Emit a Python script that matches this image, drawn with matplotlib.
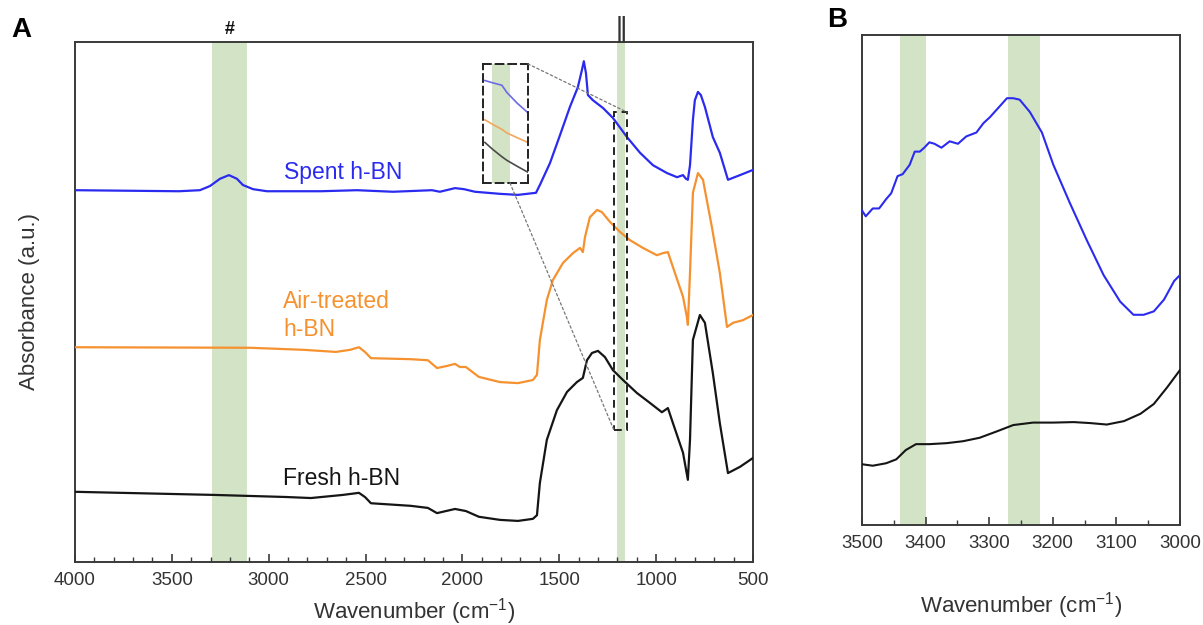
import numpy as np
import matplotlib.pyplot as plt
from matplotlib.patches import Rectangle, ConnectionPatch
from matplotlib.ticker import MultipleLocator
import matplotlib.transforms as mtransforms

plt.rcParams['font.family'] = ['Liberation Sans', 'DejaVu Sans']
plt.rcParams['mathtext.default'] = 'regular'

# --- panel A : full spectra (absorbance in a.u., 0 = bottom of frame, 100 = top) ---
wn_spent = [4000, 3463, 3355, 3303, 3251, 3205, 3164, 3133, 3081, 3009, 2730, 2544, 2358,
            2157, 2116, 2038, 1992, 1935, 1806, 1713, 1620, 1600, 1548, 1496, 1445, 1404,
            1383, 1373, 1362, 1352, 1326, 1274, 1223, 1150, 1083, 1016, 944, 892, 861, 846,
            836, 825, 810, 800, 784, 769, 748, 707, 671, 629, 567, 500]
au_spent = [71.5, 71.3, 71.5, 72.3, 73.7, 74.4, 73.7, 72.5, 71.7, 71.3, 71.3, 71.5, 71.2,
            71.5, 71.2, 71.9, 71.7, 71.2, 70.8, 70.6, 71.0, 72.5, 76.7, 82.1, 87.5, 91.3,
            94.6, 96.3, 94.0, 89.8, 88.8, 87.3, 85.4, 81.7, 78.7, 76.3, 74.8, 74.0, 74.4, 73.7,
            73.5, 76.3, 85.0, 88.8, 90.4, 89.8, 87.5, 81.7, 78.7, 73.5, 74.4, 75.4]

wn_air = [4000, 3097, 2818, 2653, 2580, 2534, 2503, 2472, 2266, 2178, 2131, 2080, 2038,
          2013, 1982, 1915, 1806, 1713, 1636, 1615, 1600, 1564, 1533, 1481, 1429, 1393,
          1378, 1367, 1342, 1305, 1280, 1238, 1187, 1135, 1068, 996, 965, 939, 913, 861,
          841, 836, 825, 810, 784, 758, 712, 671, 634, 603, 552, 500]
au_air = [41.3, 41.2, 40.8, 40.4, 40.8, 41.3, 40.4, 39.2, 39.0, 38.8, 37.3, 37.7, 38.1,
          37.5, 37.5, 35.6, 34.6, 34.4, 35.0, 36.0, 42.7, 50.4, 54.2, 57.5, 59.4, 60.4,
          59.6, 62.5, 66.3, 67.7, 67.3, 65.4, 63.5, 61.9, 60.4, 59.0, 59.4, 59.6, 56.7, 51.0,
          47.1, 45.6, 55.6, 71.0, 74.8, 73.5, 64.4, 55.6, 45.2, 46.0, 46.5, 47.5]

wn_fresh = [4000, 3282, 2911, 2782, 2617, 2534, 2503, 2472, 2266, 2178, 2131, 2038, 1982,
            1915, 1806, 1713, 1636, 1615, 1600, 1564, 1512, 1460, 1409, 1378, 1357, 1331,
            1300, 1264, 1223, 1171, 1099, 1032, 970, 939, 913, 861, 836, 825, 810, 774,
            748, 707, 671, 629, 567, 500]
au_fresh = [13.5, 12.9, 12.5, 12.3, 12.9, 13.3, 12.5, 11.3, 10.8, 10.4, 9.4, 10.2, 9.8,
            8.7, 8.1, 7.9, 8.3, 9.0, 15.2, 23.5, 29.2, 32.7, 34.6, 35.4, 38.8, 40.2,
            40.6, 39.4, 36.9, 35.0, 32.5, 30.6, 28.8, 29.6, 26.7, 21.0, 15.8, 23.5, 42.7, 47.5,
            46.0, 36.3, 26.7, 17.1, 18.3, 20.0]

bands_a = [(3290, 3112), (1200, 1162)]
band_marks = ['#', '\u2016']
zoom_wn = (1218, 1150)
zoom_au = (25.4, 86.5)

# inset (schematic zoom of the dashed window), positions 0..1 across the inset
inset_pos = [0.04, 0.22, 0.42, 0.53, 0.76, 1.0]
inset_spent = [0.86, 0.84, 0.82, 0.76, 0.67, 0.59]
inset_air = [0.53, 0.49, 0.45, 0.42, 0.38, 0.34]
inset_fresh = [0.34, 0.28, 0.22, 0.19, 0.14, 0.09]

# --- panel B : 3500-3000 cm-1 region ---
wn_b_spent = [3500, 3494, 3483, 3473, 3462, 3454, 3444, 3436, 3425, 3417, 3409, 3402, 3394,
              3386, 3375, 3362, 3349, 3336, 3320, 3309, 3299, 3283, 3272, 3262, 3252, 3236,
              3217, 3199, 3173, 3146, 3120, 3094, 3073, 3057, 3041, 3025, 3009, 3000]
au_b_spent = [64.2, 63.0, 64.6, 64.6, 66.5, 67.7, 71.2, 71.6, 73.5, 76.2, 76.2, 77.0, 78.1,
              77.8, 77.0, 78.3, 77.8, 79.3, 80.1, 82.0, 83.2, 85.5, 87.1, 87.1, 86.8, 84.3,
              80.1, 73.5, 65.7, 58.0, 51.0, 45.6, 42.9, 42.9, 43.6, 46.0, 49.8, 51.0]
wn_b_fresh = [3500, 3483, 3462, 3446, 3431, 3415, 3394, 3367, 3341, 3315, 3288, 3262, 3231,
              3199, 3167, 3141, 3115, 3088, 3062, 3041, 3020, 3000]
au_b_fresh = [12.4, 12.1, 12.6, 13.4, 15.3, 16.5, 16.5, 16.7, 17.1, 17.8, 19.1, 20.4, 20.9,
              20.9, 21.0, 20.8, 20.5, 21.2, 22.7, 24.7, 28.1, 31.6]
bands_b = [(3440, 3400), (3270, 3220)]

c_blue = '#2b2bf0'
c_orange = '#f5922f'
c_black = '#151515'
c_band = '#d3e4c6'
c_spine = '#3a3a3a'

fig = plt.figure(figsize=(12.03, 6.25), dpi=100)
ax = fig.add_axes([0.0623, 0.1008, 0.5636, 0.832])
axb = fig.add_axes([0.7165, 0.16, 0.2643, 0.784])


def style_axis(a, major, minor):
    for s in a.spines.values():
        s.set_color(c_spine)
        s.set_linewidth(1.4)
    a.xaxis.set_major_locator(MultipleLocator(major))
    a.xaxis.set_minor_locator(MultipleLocator(minor))
    a.tick_params(axis='x', which='major', direction='in', length=6, width=1.2,
                  color=c_spine, labelsize=13.5, labelcolor='#333333', pad=7, top=False)
    a.tick_params(axis='x', which='minor', direction='in', length=3.5, width=1.0,
                  color=c_spine, top=False)
    a.set_yticks([])


# panel A
for lo, hi in bands_a:
    ax.axvspan(lo, hi, color=c_band, lw=0, zorder=0)
ax.plot(wn_spent, au_spent, color=c_blue, lw=1.6, zorder=3)
ax.plot(wn_air, au_air, color=c_orange, lw=1.6, zorder=3)
ax.plot(wn_fresh, au_fresh, color=c_black, lw=1.6, zorder=3)
ax.set_xlim(4000, 500)
ax.set_ylim(0, 100)
style_axis(ax, 500, 100)
ax.set_xlabel('Wavenumber (cm$^{-1}$)', fontsize=16, color='#333333')
ax.xaxis.set_label_coords(0.5, -0.066)
ax.set_ylabel('Absorbance (a.u.)', fontsize=16, color='#333333')
ax.yaxis.set_label_coords(-0.052, 0.5)

ax.text(2920, 73.6, 'Spent h-BN', color=c_blue, fontsize=16.5, va='baseline')
ax.text(2925, 52.3, 'Air-treated\nh-BN', color=c_orange, fontsize=16.5, va='top',
        linespacing=1.3)
ax.text(2925, 14.9, 'Fresh h-BN', color=c_black, fontsize=16.5, va='baseline')

trans = mtransforms.blended_transform_factory(ax.transData, ax.transAxes)
ax.text(np.mean(bands_a[0]), 1.025, band_marks[0], transform=trans, ha='center',
        va='center', fontsize=13, fontweight='bold', color='#111111')
ax.text(np.mean(bands_a[1]), 1.024, band_marks[1], transform=trans, ha='center',
        va='center', fontsize=19, color='#333333', family=['DejaVu Sans'])

# dashed zoom window and schematic inset
ax.add_patch(Rectangle((zoom_wn[0], zoom_au[0]), zoom_wn[1] - zoom_wn[0],
                       zoom_au[1] - zoom_au[0], fill=False, ls=(0, (4, 2.5)),
                       lw=1.4, ec='#222222', zorder=4))
axins = ax.inset_axes([0.602, 0.729, 0.066, 0.229])
axins.axvspan(0.2, 0.6, color=c_band, lw=0, zorder=0)
axins.plot(inset_pos, inset_spent, color='#6b6be6', lw=1.2)
axins.plot(inset_pos, inset_air, color='#f0a75a', lw=1.2)
axins.plot(inset_pos, inset_fresh, color='#4a4a4a', lw=1.2)
axins.set_xlim(0, 1)
axins.set_ylim(0, 1)
axins.set_xticks([])
axins.set_yticks([])
for s in axins.spines.values():
    s.set_linestyle((0, (4, 2.5)))
    s.set_linewidth(1.4)
    s.set_color('#222222')

for xy_in, xy_win in [((1.0, 1.0), (zoom_wn[1], zoom_au[1])),
                      ((0.6, 0.0), (zoom_wn[0], zoom_au[0]))]:
    con = ConnectionPatch(xyA=xy_in, coordsA=axins.transAxes, xyB=xy_win,
                          coordsB=ax.transData, ls=(0, (2, 2)), lw=0.9, color='#777777')
    fig.add_artist(con)

fig.text(0.018, 0.952, 'A', fontsize=20, fontweight='bold', va='center', ha='center')

# panel B
for lo, hi in bands_b:
    axb.axvspan(lo, hi, color=c_band, lw=0, zorder=0)
axb.plot(wn_b_spent, au_b_spent, color=c_blue, lw=1.5, zorder=3)
axb.plot(wn_b_fresh, au_b_fresh, color=c_black, lw=1.5, zorder=3)
axb.set_xlim(3500, 3000)
axb.set_ylim(0, 100)
style_axis(axb, 100, 50)
axb.set_xlabel('Wavenumber (cm$^{-1}$)', fontsize=16, color='#333333')
axb.xaxis.set_label_coords(0.5, -0.133)
fig.text(0.696, 0.968, 'B', fontsize=20, fontweight='bold', va='center', ha='center')

fig.savefig('out.png', dpi=100)
